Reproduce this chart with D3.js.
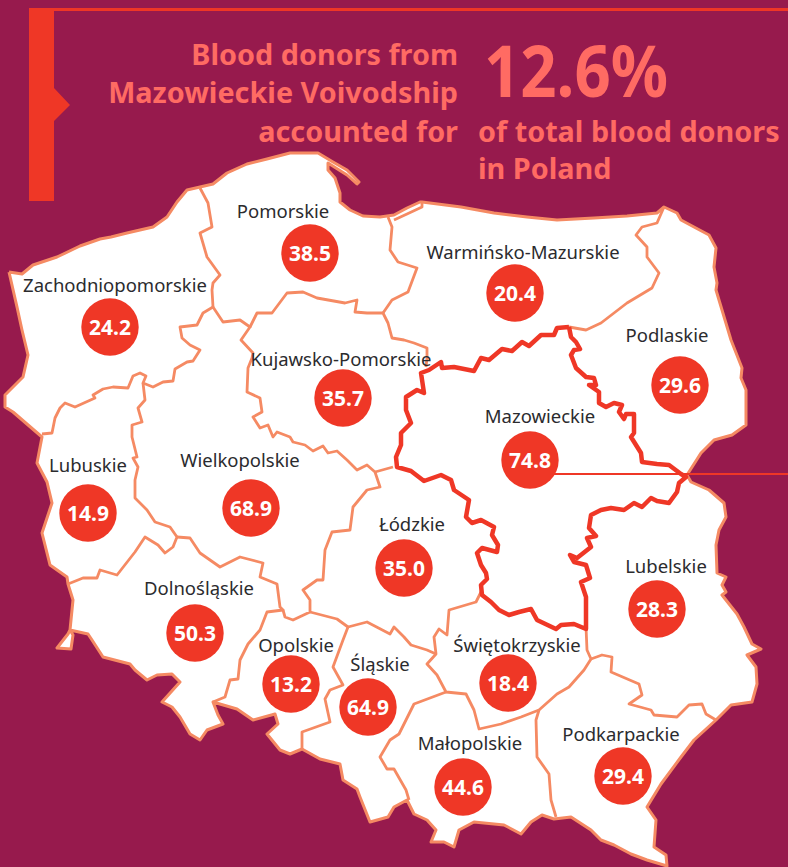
<!DOCTYPE html>
<html>
<head>
<meta charset="utf-8">
<script src="https://cdn.jsdelivr.net/npm/d3@7"></script>
<style>
  html, body { margin: 0; padding: 0; background: #971a4d; }
  svg { display: block; }
</style>
</head>
<body>
<div id="plot"></div>
<script>
// values
var regions = ["Pomorskie","Zachodniopomorskie","Warmińsko-Mazurskie","Kujawsko-Pomorskie","Mazowieckie","Podlaskie","Lubuskie","Wielkopolskie","Łódzkie","Lubelskie","Dolnośląskie","Opolskie","Śląskie","Świętokrzyskie","Małopolskie","Podkarpackie"];
var donors = ["38.5","24.2","20.4","35.7","74.8","29.6","14.9","68.9","35.0","28.3","50.3","13.2","64.9","18.4","44.6","29.4"];

// map layout, traced by hand: bubble centre and label centre/baseline per region
var bubbleAt = [[310,253],[110,327],[515,293],[343,398],[530,460],[680,385],[88,513],[251,508],[404,568],[657,609],[195,633],[291,684],[368,707],[508,683],[463,787],[623,776]];
var labelAt = [[283,218],[115,292],[523,259],[341,366],[540,423],[667,342],[88,472],[240,467],[412,531],[666,573],[199,595],[296,652],[380,671],[517,652],[470,750],[621,741]];

var poland = [[9,272],[22,274],[33,265],[57,257],[80,246],[100,239],[111,237],[127,233],[153,227],[167,217],[177,202],[187,190],[200,187],[213,184],[227,173],[247,164],[267,159],[290,153],[318,153],[333,162],[347,170],[359,182],[357,184],[347,175],[328,163],[328,170],[335,178],[340,193],[340,202],[350,210],[363,216],[380,217],[394,215],[407,208],[420,202],[422,202],[461,207],[494,213],[527,217],[557,220],[594,218],[627,216],[657,213],[664,207],[677,213],[681,220],[694,227],[709,235],[716,248],[714,267],[717,283],[716,290],[722,310],[731,340],[742,368],[741,378],[746,390],[746,425],[732,435],[714,440],[701,453],[687,475],[691,482],[709,490],[724,503],[726,517],[719,530],[716,545],[717,573],[726,577],[722,585],[726,592],[722,595],[737,614],[744,627],[752,644],[761,649],[747,655],[756,667],[757,684],[752,702],[731,705],[716,720],[694,740],[681,757],[661,784],[647,807],[656,820],[654,847],[666,855],[667,866],[647,860],[631,854],[614,845],[601,840],[591,830],[571,817],[554,819],[542,815],[531,822],[521,834],[504,825],[474,822],[459,830],[454,847],[444,842],[431,842],[436,830],[427,820],[414,814],[407,800],[394,807],[388,817],[370,822],[360,797],[357,789],[343,780],[340,764],[320,759],[302,749],[290,754],[280,750],[267,734],[278,724],[275,714],[253,720],[237,709],[213,702],[218,715],[223,724],[207,730],[200,740],[190,734],[180,717],[172,707],[162,702],[180,682],[172,674],[157,675],[147,680],[135,670],[130,664],[103,657],[92,640],[88,634],[70,630],[68,634],[57,648],[71,649],[73,635],[70,630],[73,600],[68,584],[67,577],[50,565],[42,533],[52,503],[47,482],[37,463],[42,437],[13,412],[5,407],[5,395],[23,377],[28,355],[22,330],[17,307],[9,272]];

var mazowieckie = [[569,327],[571,337],[576,342],[580,349],[574,350],[571,355],[576,368],[586,377],[594,378],[596,385],[589,385],[599,392],[599,403],[606,407],[614,403],[622,405],[619,412],[624,419],[626,414],[634,414],[634,433],[631,437],[641,453],[642,462],[657,464],[669,465],[681,474],[686,477],[679,483],[677,492],[669,503],[657,501],[651,498],[642,507],[634,503],[624,510],[611,508],[601,510],[591,515],[589,528],[596,536],[587,538],[591,547],[577,558],[570,555],[574,562],[586,565],[590,578],[581,582],[586,597],[586,629],[574,624],[561,625],[556,629],[537,620],[531,609],[519,612],[509,615],[499,610],[491,602],[482,595],[481,585],[487,579],[486,573],[481,565],[477,553],[482,548],[497,552],[498,545],[492,535],[494,527],[481,520],[472,523],[466,517],[469,500],[454,490],[451,480],[441,475],[424,481],[411,471],[397,467],[396,457],[401,445],[401,433],[411,423],[406,410],[406,397],[417,390],[424,393],[421,373],[429,370],[441,362],[442,368],[454,367],[474,371],[481,358],[489,360],[502,349],[512,351],[522,342],[529,346],[541,335],[554,335],[557,328],[569,327]];

var borders = [
  [[200,188],[208,203],[212,227],[200,233],[207,257],[220,275],[213,283],[212,290],[213,307]],
  [[213,307],[203,313],[197,325],[180,327],[182,338],[190,345],[200,350],[193,361],[187,362],[175,369],[173,381],[163,382],[153,387],[143,383],[146,376],[140,373],[133,376],[128,388],[113,387],[103,389],[93,395],[95,398],[75,407],[65,403],[60,408],[55,418],[52,433],[42,434]],
  [[143,383],[145,400],[138,408],[142,422],[132,425],[132,437],[137,457],[133,458],[138,467],[135,480],[135,498],[147,510],[155,522],[170,527],[177,537],[173,547],[165,553],[158,545],[145,537],[135,552],[117,575],[100,570],[97,578],[83,578],[68,584]],
  [[177,537],[190,538],[200,553],[220,567],[240,557],[263,563],[260,577],[277,584],[280,607],[283,610],[267,612],[260,630],[248,644],[240,660],[238,679],[230,680],[225,697],[213,702]],
  [[283,610],[285,617],[293,620],[310,612],[310,600],[303,590],[317,580],[323,580],[325,550],[332,532],[350,530],[353,507],[367,490],[380,487],[375,472],[367,465],[357,470],[347,460],[337,451],[328,453],[323,446],[313,451],[305,445],[293,442],[290,437],[277,432],[273,437],[268,425],[260,428],[253,417],[262,412],[260,398],[247,392],[248,368],[252,358],[253,353],[241,340],[250,327],[240,320],[223,322],[213,307]],
  [[375,472],[393,467]],
  [[250,327],[257,313],[272,313],[287,293],[303,292],[317,298],[345,303],[357,300],[355,312],[367,313],[383,313],[388,323],[392,338],[404,340],[414,343],[427,348],[427,358],[426,367]],
  [[383,313],[392,300],[408,292],[417,268],[398,262],[390,250],[392,227],[388,217]],
  [[394,220],[407,214],[422,207],[422,202]],
  [[569,327],[586,330],[601,323],[627,303],[652,288],[659,273],[647,257],[647,247],[636,235],[642,227],[657,223],[664,207]],
  [[586,627],[587,650],[591,659],[584,670],[569,687],[557,694],[539,710],[521,717],[501,724],[479,729],[474,710],[466,694],[446,692],[437,675],[427,664],[436,654],[434,637],[439,629],[447,635],[449,610],[476,602],[481,592]],
  [[591,659],[602,655],[612,657],[611,672],[639,684],[642,695],[629,704],[651,710],[654,715],[677,717],[689,705],[702,704],[706,714],[716,720]],
  [[539,710],[536,720],[537,757],[549,774],[551,800],[556,817]],
  [[446,692],[414,704],[406,720],[399,734],[390,740],[380,757],[387,769],[394,769],[406,790],[409,800]],
  [[310,612],[337,619],[348,627],[367,622],[390,634],[394,627],[404,637],[411,645],[427,650],[436,654]],
  [[348,627],[343,640],[333,667],[343,685],[330,690],[325,699],[330,722],[302,732],[302,749]]
];

var bg = "#971a4d", red = "#ef3726", salmon = "#ff6b63", edge = "#f58a63";
var width = 788, height = 867;

var svg = d3.select("div#plot").append("svg")
  .attr("width", width)
  .attr("height", height)
  .style("font-family", "'Noto Sans', sans-serif");

var line = d3.line();

svg.append("rect").attr("width", width).attr("height", height).attr("fill", bg);

// bracket at the top
svg.append("path").attr("d", "M29,8H788V11H54V88L70,105L54,121V201H29Z").attr("fill", red);

// map
svg.append("path").attr("d", line(poland))
  .attr("fill", "#fff").attr("stroke", edge).attr("stroke-width", 3).attr("stroke-linejoin", "round");

svg.selectAll(".border").data(borders).enter().append("path")
  .attr("class", "border")
  .attr("d", line)
  .attr("fill", "none").attr("stroke", edge).attr("stroke-width", 2.8).attr("stroke-linejoin", "round");

svg.append("path").attr("d", line(mazowieckie))
  .attr("fill", "none").attr("stroke", red).attr("stroke-width", 4.5).attr("stroke-linejoin", "round");

// leader from Mazowieckie out to the right edge
svg.append("line").attr("x1", bubbleAt[4][0]).attr("x2", width).attr("y1", 474).attr("y2", 474)
  .attr("stroke", red).attr("stroke-width", 2);

// labels
svg.selectAll(".name").data(regions).enter().append("text")
  .attr("class", "name")
  .attr("x", function(d, i) { return labelAt[i][0]; })
  .attr("y", function(d, i) { return labelAt[i][1]; })
  .attr("text-anchor", "middle")
  .attr("font-size", 18.5)
  .attr("fill", "#2b2b2e")
  .text(function(d) { return d; });

svg.selectAll(".bubble").data(donors).enter().append("circle")
  .attr("class", "bubble")
  .attr("cx", function(d, i) { return bubbleAt[i][0]; })
  .attr("cy", function(d, i) { return bubbleAt[i][1]; })
  .attr("r", 28.7)
  .attr("fill", red);

svg.selectAll(".value").data(donors).enter().append("text")
  .attr("class", "value")
  .attr("x", function(d, i) { return bubbleAt[i][0]; })
  .attr("y", function(d, i) { return bubbleAt[i][1] + 7.5; })
  .attr("text-anchor", "middle")
  .attr("font-size", 21)
  .attr("font-weight", 700)
  .attr("fill", "#fff")
  .text(function(d) { return d; });

// headline
var headLeft = [["Blood donors from",65],["Mazowieckie Voivodship",103],["accounted for",142]];
var headRight = [["of total blood donors",142],["in Poland",179]];

svg.selectAll(".hl").data(headLeft).enter().append("text")
  .attr("class", "hl")
  .attr("x", 458).attr("y", function(d) { return d[1]; })
  .attr("text-anchor", "end")
  .attr("font-size", 28.8).attr("font-weight", 700).attr("fill", salmon)
  .text(function(d) { return d[0]; });

svg.selectAll(".hr").data(headRight).enter().append("text")
  .attr("class", "hr")
  .attr("x", 478).attr("y", function(d) { return d[1]; })
  .attr("font-size", 28.8).attr("font-weight", 700).attr("fill", salmon)
  .text(function(d) { return d[0]; });

// the big figure is narrower in the original, so squeeze it to the same width
svg.append("text")
  .attr("x", 484).attr("y", 97)
  .attr("font-size", 72).attr("font-weight", 700).attr("fill", salmon)
  .attr("textLength", 184).attr("lengthAdjust", "spacingAndGlyphs")
  .text("12.6%");
</script>
</body>
</html>
